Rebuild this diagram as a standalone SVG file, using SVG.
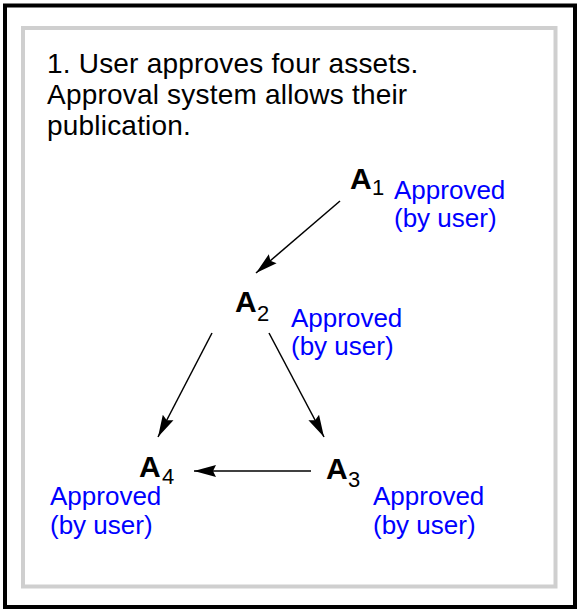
<svg xmlns="http://www.w3.org/2000/svg" width="577" height="609" viewBox="0 0 577 609">
  <style>
    .title { font-family: "Liberation Sans", Arial, sans-serif; font-size: 28px; letter-spacing: 0.2px; fill: #000; }
    .node { font-family: "Liberation Sans", Arial, sans-serif; font-size: 30px; font-weight: bold; fill: #000; }
    .sub { font-family: "Liberation Sans", Arial, sans-serif; font-size: 22px; fill: #000; }
    .lbl { font-family: "Liberation Sans", Arial, sans-serif; font-size: 26px; fill: #0000ff; }
    .edge { stroke: #000; stroke-width: 1.5; fill: none; marker-end: url(#arrow); }
  </style>
  <defs>
    <marker id="arrow" markerUnits="userSpaceOnUse" markerWidth="24" markerHeight="16" refX="22" refY="7" orient="auto">
      <path d="M0,1 L22,7 L0,13 L3,7 z" fill="#000"/>
    </marker>
  </defs>
  <rect x="0" y="0" width="577" height="609" fill="#fff"/>
  <rect x="5" y="5.5" width="570" height="601.5" fill="none" stroke="#000" stroke-width="4"/>
  <rect x="23" y="28" width="532.5" height="558.5" fill="none" stroke="#cfcfcf" stroke-width="4"/>
  <g id="caption">
    <text class="title" x="47" y="73">1. User approves four assets.</text>
    <text class="title" x="47" y="104">Approval system allows their</text>
    <text class="title" x="47" y="135">publication.</text>
  </g>
  <g id="connectors">
    <line class="edge" x1="340" y1="201" x2="256" y2="273"/>
    <line class="edge" x1="212" y1="333" x2="158" y2="437"/>
    <line class="edge" x1="269" y1="333" x2="324" y2="437"/>
    <line class="edge" x1="311" y1="471" x2="194" y2="471"/>
  </g>
  <g id="A1">
    <text class="node" x="350" y="189">A</text><text class="sub" x="372" y="195">1</text>
    <text class="lbl" x="394" y="199">Approved</text>
    <text class="lbl" x="394" y="227">(by user)</text>
  </g>
  <g id="A2">
    <text class="node" x="235" y="312">A</text><text class="sub" x="257" y="321">2</text>
    <text class="lbl" x="291" y="327">Approved</text>
    <text class="lbl" x="291" y="355">(by user)</text>
  </g>
  <g id="A3">
    <text class="node" x="326" y="479">A</text><text class="sub" x="348" y="487">3</text>
    <text class="lbl" x="373" y="505">Approved</text>
    <text class="lbl" x="373" y="534">(by user)</text>
  </g>
  <g id="A4">
    <text class="node" x="139" y="477">A</text><text class="sub" x="162" y="484">4</text>
    <text class="lbl" x="50" y="505">Approved</text>
    <text class="lbl" x="50" y="534">(by user)</text>
  </g>
</svg>
